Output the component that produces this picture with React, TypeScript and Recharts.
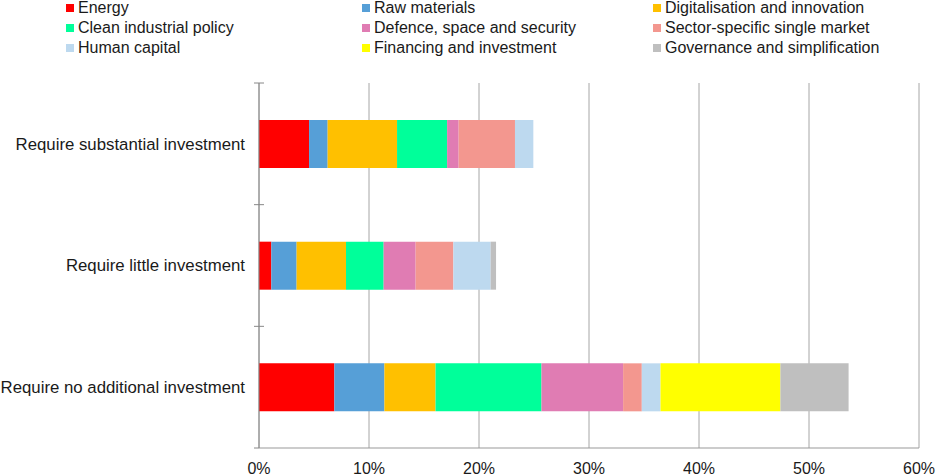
import { BarChart, Bar, XAxis, YAxis, CartesianGrid, Legend } from "recharts";

const CATEGORIES = [
  "Require substantial investment",
  "Require little investment",
  "Require no additional investment",
];

const SERIES_NAMES = [
  "Energy",
  "Raw materials",
  "Digitalisation and innovation",
  "Clean industrial policy",
  "Defence, space and security",
  "Sector-specific single market",
  "Human capital",
  "Financing and investment",
  "Governance and simplification",
];

const SERIES_COLORS = [
  "#FF0000", "#569FD7", "#FFC000", "#00FF9A", "#E07CB3",
  "#F3978F", "#BDD9EF", "#FFFF00", "#BFBFBF",
];

// one array per series, in category order (substantial, little, none)
const ENERGY = [4.55, 1.12, 6.85];
const RAW_MATERIALS = [1.69, 2.3, 4.55];
const DIGITALISATION = [6.31, 4.49, 4.65];
const CLEAN_INDUSTRIAL = [4.55, 3.42, 9.63];
const DEFENCE = [1.05, 2.91, 7.42];
const SECTOR_MARKET = [5.12, 3.43, 1.7];
const HUMAN_CAPITAL = [1.67, 3.39, 1.7];
const FINANCING = [0, 0, 10.9];
const GOVERNANCE = [0, 0.49, 6.2];

const SERIES_VALUES = [
  ENERGY, RAW_MATERIALS, DIGITALISATION, CLEAN_INDUSTRIAL, DEFENCE,
  SECTOR_MARKET, HUMAN_CAPITAL, FINANCING, GOVERNANCE,
];

const X_TICKS = [0, 10, 20, 30, 40, 50, 60];

const chartData = CATEGORIES.map((cat, i) => {
  const row: Record<string, string | number> = { category: cat };
  SERIES_NAMES.forEach((name, s) => {
    row[name] = SERIES_VALUES[s][i];
  });
  return row;
});

const FONT = "'Liberation Sans', Arial, Helvetica, sans-serif";
const LABEL_MARGIN = 14;

// category label at band centre, small tick marks on the band boundaries
function CategoryTick(props: any) {
  const { x, y, payload, index, visibleTicksCount } = props;
  const half = payload?.offset ?? 0;
  const axisX = x + LABEL_MARGIN;
  const isLast = index === visibleTicksCount - 1;
  return (
    <g>
      <line x1={axisX - 5} x2={axisX + 5} y1={y - half} y2={y - half} stroke="#888" />
      {isLast && (
        <line x1={axisX - 5} x2={axisX} y1={y + half} y2={y + half} stroke="#888" />
      )}
      <text
        x={x}
        y={y}
        dy="0.35em"
        textAnchor="end"
        fill="#1a1a1a"
        fontSize={16.8}
        fontFamily={FONT}
      >
        {payload.value}
      </text>
    </g>
  );
}

function LegendGrid() {
  const cols = [66, 362, 653];
  return (
    <div style={{ position: "relative", width: 936, height: 0, fontFamily: FONT }}>
      {SERIES_NAMES.map((name, i) => (
        <div
          key={name}
          style={{
            position: "absolute",
            left: cols[i % 3],
            top: Math.floor(i / 3) * 20 - 2,
            height: 20,
            display: "flex",
            alignItems: "center",
            fontSize: 16,
            lineHeight: "20px",
            color: "#1a1a1a",
            whiteSpace: "nowrap",
          }}
        >
          <span
            style={{
              display: "inline-block",
              width: 8,
              height: 8,
              background: SERIES_COLORS[i],
              marginRight: 4,
            }}
          />
          {name}
        </div>
      ))}
    </div>
  );
}

export default function App() {
  return (
    <div style={{ position: "absolute", left: 0, top: 0, background: "#fff" }}>
      <BarChart
        width={936}
        height={476}
        data={chartData}
        layout="vertical"
        margin={{ top: 83, right: 17, bottom: 0, left: 0 }}
        barSize={48}
      >
        <CartesianGrid horizontal={false} stroke="#a6a6a6" />
        <XAxis
          type="number"
          domain={[0, 60]}
          ticks={X_TICKS}
          tickFormatter={(v) => `${v}%`}
          tickLine={false}
          tickSize={0}
          tickMargin={15}
          height={28}
          axisLine={{ stroke: "#999" }}
          tick={{ fontSize: 16, fill: "#1a1a1a", fontFamily: FONT }}
          interval={0}
        />
        <YAxis
          type="category"
          dataKey="category"
          width={259}
          tickLine={false}
          tickSize={0}
          tickMargin={LABEL_MARGIN}
          axisLine={{ stroke: "#888" }}
          tick={<CategoryTick />}
          interval={0}
        />
        <Legend
          verticalAlign="top"
          content={() => <LegendGrid />}
          wrapperStyle={{ position: "absolute", top: 0, left: 0, width: 936, height: 0 }}
        />
        {SERIES_NAMES.map((name, i) => (
          <Bar
            key={name}
            dataKey={name}
            stackId="a"
            fill={SERIES_COLORS[i]}
            isAnimationActive={false}
          />
        ))}
      </BarChart>
    </div>
  );
}
